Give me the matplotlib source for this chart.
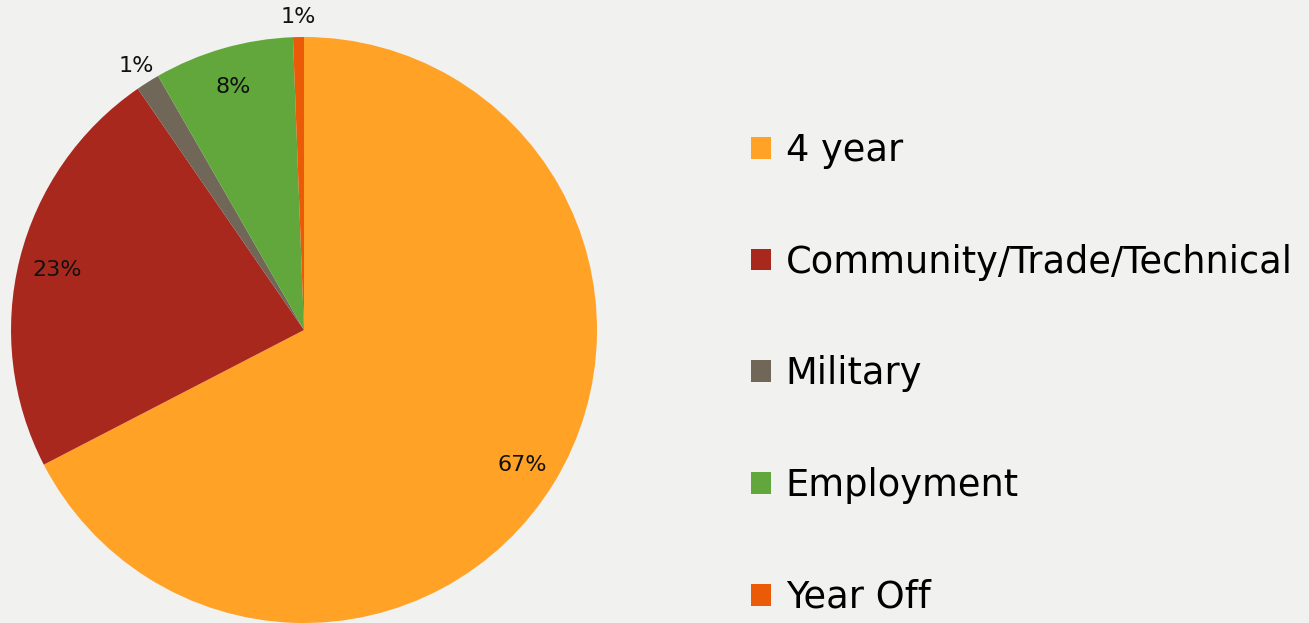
import matplotlib
matplotlib.use('Agg')
import numpy as np
import matplotlib.pyplot as plt

categories = ['4 year', 'Community/Trade/Technical', 'Military', 'Employment', 'Year Off']
shares = [67.4, 23.0, 1.3, 7.7, 0.6]
pct_labels = ['67%', '23%', '1%', '8%', '1%']
colors = ['#FFA226', '#A9281E', '#706759', '#62A73B', '#EB5A06']

bg = '#F1F1F0'

fig = plt.figure(figsize=(13.09, 6.23), dpi=100)
fig.patch.set_facecolor(bg)

ax = fig.add_axes([0.0084, 0.0, 0.4477, 0.9406])
ax.set_facecolor(bg)
wedges, _ = ax.pie(shares, colors=colors, startangle=90, counterclock=False,
                   wedgeprops=dict(linewidth=0))
ax.set_xlim(-1, 1)
ax.set_ylim(-1, 1)
ax.set_aspect('equal')
ax.axis('off')

# percentage labels: inside for big slices, outside for the tiny ones
for w, lab, val in zip(wedges, pct_labels, shares):
    ang = np.deg2rad((w.theta1 + w.theta2) / 2)
    r = 0.87 if val > 5 else 1.075
    ax.text(r * np.cos(ang), r * np.sin(ang), lab, ha='center', va='center_baseline',
            fontsize=16, family='DejaVu Sans', color='#111111', clip_on=False)

leg = fig.legend(wedges, categories, loc='center left',
                 bbox_to_anchor=(0.560, 0.400), frameon=False,
                 prop={'family': 'DejaVu Sans', 'size': 26.5},
                 handlelength=0.53, handleheight=0.53, handletextpad=0.40,
                 labelspacing=2.03, borderpad=0)

fig.savefig('out.png', dpi=100, facecolor=bg)
